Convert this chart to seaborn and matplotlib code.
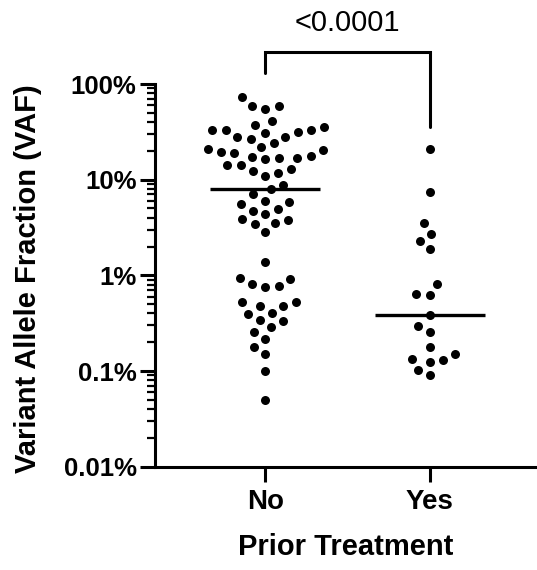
import numpy as np
import pandas as pd
import matplotlib
matplotlib.use("Agg")
import matplotlib.pyplot as plt
import seaborn as sns
from matplotlib.ticker import FixedLocator, FixedFormatter, NullFormatter, LogLocator

# ---- data (VAF, in percent) ----
categories = ["No", "Yes"]
vaf_no = [72.6, 59.3, 55.2, 58.9,
          40.8, 33.1, 35.3, 28.1, 31.7, 28.1, 37.6, 31.0, 24.0, 33.1, 26.8, 33.1,
          19.6, 21.0, 16.9, 21.8, 16.9, 12.4, 17.7, 14.4, 11.0, 8.87, 18.9, 14.4,
          11.8, 20.4, 17.1, 12.8, 16.3,
          8.05,
          7.03, 5.84, 4.74, 6.04, 4.94, 5.61, 4.41, 3.50, 3.79, 3.86, 3.47, 2.82,
          1.38,
          0.933, 0.819, 0.757, 0.774, 0.917,
          0.482, 0.527, 0.479, 0.524,
          0.393, 0.402, 0.334, 0.344,
          0.287, 0.256, 0.216, 0.179, 0.152, 0.101, 0.050]
vaf_yes = [20.8, 7.49, 3.50, 2.71, 2.31, 1.89, 0.819, 0.628, 0.644,
           0.383,
           0.298, 0.258, 0.179, 0.151, 0.129, 0.135, 0.124, 0.102, 0.090]
y_ticks = [0.01, 0.1, 1, 10, 100]
y_tick_labels = ["0.01%", "0.1%", "1%", "10%", "100%"]
p_label = "<0.0001"

df = pd.DataFrame({
    "Prior Treatment": ["No"] * len(vaf_no) + ["Yes"] * len(vaf_yes),
    "VAF": vaf_no + vaf_yes,
})

sns.set_style("ticks")
plt.rcParams["font.family"] = ["Liberation Sans", "DejaVu Sans"]
plt.rcParams.update({"text.color": "black", "axes.labelcolor": "black",
                     "xtick.color": "black", "ytick.color": "black",
                     "axes.edgecolor": "black"})

fig = plt.figure(figsize=(5.37, 5.70), dpi=100)
ax = fig.add_axes([155 / 537, 1 - 466.7 / 570, 382 / 537, (466.7 - 84) / 570])

sns.swarmplot(data=df, x="Prior Treatment", y="VAF", order=categories,
              color="black", size=7.9, linewidth=1.4, edgecolor="white",
              log_scale=(False, True), ax=ax)

# median lines
for i, vals in enumerate([vaf_no, vaf_yes]):
    ax.hlines(np.median(vals), i - 0.335, i + 0.335, color="black", lw=2.4, zorder=5)

ax.set_xlim(-0.67, 1.65)
ax.set_ylim(0.01, 100)
ax.yaxis.set_major_locator(FixedLocator(y_ticks))
ax.yaxis.set_major_formatter(FixedFormatter(y_tick_labels))
ax.yaxis.set_minor_locator(LogLocator(base=10, subs=np.arange(2, 10)))
ax.yaxis.set_minor_formatter(NullFormatter())

for s in ["top", "right"]:
    ax.spines[s].set_visible(False)
for s in ["left", "bottom"]:
    ax.spines[s].set_linewidth(2.2)
    ax.spines[s].set_color("black")

ax.tick_params(axis="y", which="major", length=10.8, width=2.2, pad=2.5,
               labelsize=18.5, color="black", labelcolor="black")
ax.tick_params(axis="y", which="minor", length=5.5, width=1.6, color="black")
ax.tick_params(axis="x", which="major", length=11, width=2.2, pad=5,
               labelsize=20, color="black", labelcolor="black")
for lab in ax.get_yticklabels() + ax.get_xticklabels():
    lab.set_fontweight("bold")

ax.set_ylabel("Variant Allele Fraction (VAF)", fontsize=21, fontweight="bold",
              va="center", color="black")
ax.yaxis.set_label_coords(-0.333, 0.492)
ax.set_xlabel("Prior Treatment", fontsize=21, fontweight="bold", va="center",
              color="black")
ax.xaxis.set_label_coords(0.5, -0.21)

# significance bracket
ax.plot([0, 0, 1, 1], [129, 217, 217, 35.8], color="black", lw=2.2,
        clip_on=False, solid_joinstyle="miter")
ax.text(0.5, 433, p_label, ha="center", va="center", fontsize=21, color="black")

fig.savefig("out.png", dpi=100)
